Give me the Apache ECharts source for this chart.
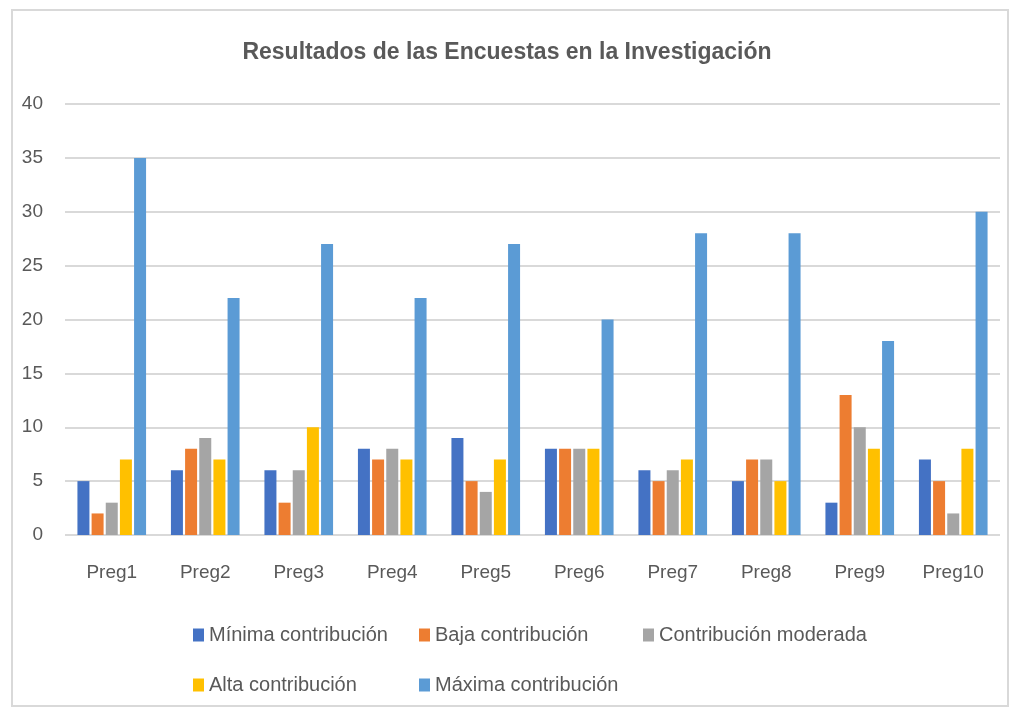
<!DOCTYPE html>
<html>
<head>
<meta charset="utf-8">
<script src="https://cdn.jsdelivr.net/npm/echarts@6/dist/echarts.min.js"></script>
<style>
  html, body { margin: 0; padding: 0; background: #fff; }
  #main { width: 1014px; height: 713px; }
</style>
</head>
<body>
<div id="main"></div>
<script>
// datos
var categories = ["Preg1", "Preg2", "Preg3", "Preg4", "Preg5", "Preg6", "Preg7", "Preg8", "Preg9", "Preg10"];
var seriesNames = ["Mínima contribución", "Baja contribución", "Contribución moderada", "Alta contribución", "Máxima contribución"];
var minima = [5, 6, 6, 8, 9, 8, 6, 5, 3, 7];
var baja = [2, 8, 3, 7, 5, 8, 5, 7, 13, 5];
var moderada = [3, 9, 6, 8, 4, 8, 6, 7, 10, 2];
var alta = [7, 7, 10, 7, 7, 8, 7, 5, 8, 8];
var maxima = [35, 22, 27, 22, 27, 20, 28, 28, 18, 30];
var colors = ["#4472C4", "#ED7D31", "#A5A5A5", "#FFC000", "#5B9BD5"];

var font = "'Liberation Sans Narrow', 'Liberation Sans', sans-serif";
var textColor = "#595959";

var chart = echarts.init(document.getElementById("main"));

// una leyenda por elemento para colocar las columnas
var legendPos = [[188, 620], [414, 620], [638, 620], [188, 670], [414, 670]];
var legends = seriesNames.map(function (name, i) {
  return {
    data: [name],
    left: legendPos[i][0],
    top: legendPos[i][1],
    itemWidth: 11,
    itemHeight: 13,
    icon: "rect",
    itemGap: 6,
    textStyle: { color: textColor, fontSize: 20, fontFamily: font }
  };
});

var allData = [minima, baja, moderada, alta, maxima];

chart.setOption({
  backgroundColor: "#fff",
  title: {
    text: "Resultados de las Encuestas en la Investigación",
    left: "center",
    top: 36,
    textStyle: { color: textColor, fontSize: 23, fontWeight: "bold", fontFamily: font }
  },
  legend: legends,
  grid: { left: 65, right: 14, top: 104, bottom: 178 },
  xAxis: {
    type: "category",
    data: categories,
    axisLine: { show: false },
    axisTick: { show: false },
    axisLabel: { color: textColor, fontSize: 19, fontFamily: font, margin: 28 }
  },
  yAxis: {
    type: "value",
    min: 0,
    max: 40,
    interval: 5,
    axisLine: { show: false },
    axisTick: { show: false },
    splitLine: { lineStyle: { color: "#D9D9D9", width: 2 } },
    axisLabel: { color: textColor, fontSize: 19, fontFamily: font, margin: 22 }
  },
  graphic: [{
    type: "rect",
    shape: { x: 12, y: 10, width: 996, height: 696 },
    style: { fill: "none", stroke: "#D9D9D9", lineWidth: 2 },
    silent: true
  }],
  series: allData.map(function (d, i) {
    return {
      name: seriesNames[i],
      type: "bar",
      data: d,
      barWidth: 12,
      barGap: "18%",
      itemStyle: { color: colors[i] }
    };
  })
});
</script>
</body>
</html>
